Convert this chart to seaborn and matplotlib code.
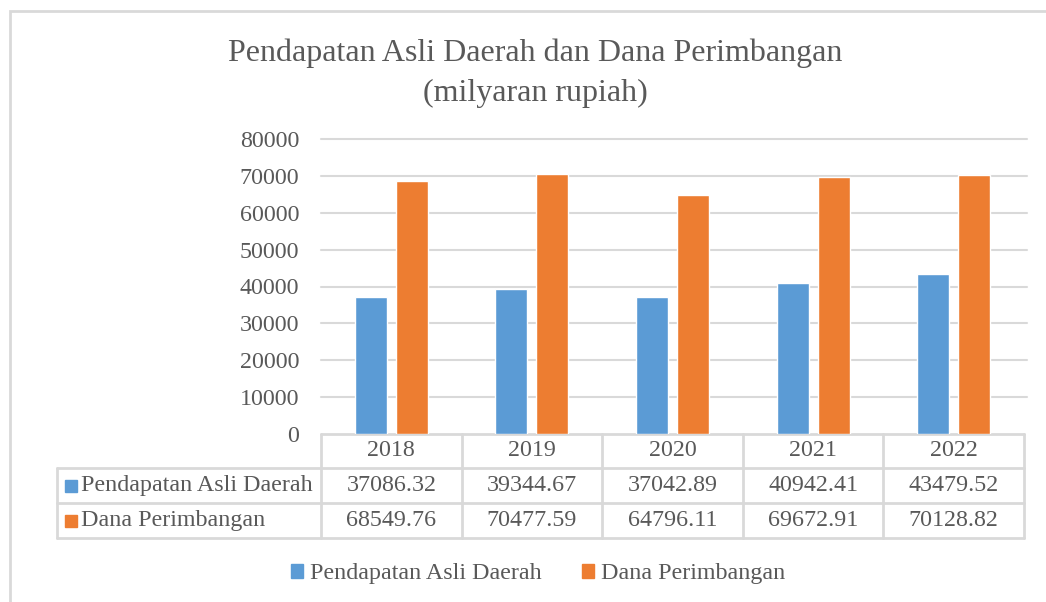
import pandas as pd
import matplotlib.pyplot as plt
import matplotlib.transforms as mtransforms
from matplotlib.patches import Rectangle
import seaborn as sns

# DATA

YEARS = ['2018', '2019', '2020', '2021', '2022']
PAD = [37086.32, 39344.67, 37042.89, 40942.41, 43479.52]
DANA = [68549.76, 70477.59, 64796.11, 69672.91, 70128.82]
SERIES = ['Pendapatan Asli Daerah', 'Dana Perimbangan']
COLORS = ['#5B9BD5', '#ED7D31']
TITLE = 'Pendapatan Asli Daerah dan Dana Perimbangan\n(milyaran rupiah)'

TEXT_COLOR = '#595959'
LINE_COLOR = '#D9D9D9'
FONT = 'Liberation Serif'
FS = 17.3

# PLOT

sns.set_style('white')
plt.rcParams['font.family'] = [FONT, 'DejaVu Serif']

df = pd.DataFrame({
    'Year': YEARS * 2,
    'Value': PAD + DANA,
    'Series': [SERIES[0]] * len(YEARS) + [SERIES[1]] * len(YEARS),
})

W, H = 1046, 602
fig = plt.figure(figsize=(W / 100, H / 100), dpi=100)

# plot area in pixels
px_left, px_right, px_top, px_bottom = 321, 1024, 139, 434
ax = fig.add_axes([px_left / W, 1 - px_bottom / H,
                   (px_right - px_left) / W, (px_bottom - px_top) / H])

sns.barplot(data=df, x='Year', y='Value', hue='Series', palette=COLORS,
            saturation=1, width=0.583, gap=0.22, legend=False, ax=ax, zorder=3)

ax.set_xlim(-0.5, len(YEARS) - 0.5)
ax.set_ylim(0, 80000)
ax.set_yticks(range(0, 80001, 10000))
for yv in range(10000, 80001, 10000):
    ax.axhline(yv, color=LINE_COLOR, lw=1.5, zorder=1, xmax=1.004, clip_on=False)
for s in ax.spines.values():
    s.set_visible(False)
ax.set_xticks([])
ax.set_xlabel('')
ax.set_ylabel('')
ax.tick_params(axis='y', length=0, pad=15.8, labelsize=FS, labelcolor=TEXT_COLOR)

# title
fig.text(535 / W, 1 - 73 / H, TITLE, ha='center', va='center', fontsize=23,
         color=TEXT_COLOR, linespacing=1.5)

# data table below the plot area
trans = mtransforms.blended_transform_factory(ax.transData, ax.transAxes)
ph = px_bottom - px_top


def yfrac(py):
    return (px_bottom - py) / ph


row_edges = [434, 468, 503, 538]
x_lo, x_hi = -0.5, len(YEARS) - 0.5
x_label = (57 - px_left) / (px_right - px_left) * len(YEARS) - 0.5

lk = dict(color=LINE_COLOR, lw=2, clip_on=False, zorder=2)
ax.plot([x_lo, x_hi], [yfrac(row_edges[0])] * 2, transform=trans, **lk)
for ry in row_edges[1:]:
    ax.plot([x_label, x_hi], [yfrac(ry)] * 2, transform=trans, **lk)
ax.plot([x_label, x_label], [yfrac(row_edges[1]), yfrac(row_edges[3])], transform=trans, **lk)
for i in range(len(YEARS) + 1):
    xv = i - 0.5
    ax.plot([xv, xv], [yfrac(row_edges[0]), yfrac(row_edges[3])], transform=trans, **lk)

for i, yr in enumerate(YEARS):
    ax.text(i, yfrac((row_edges[0] + row_edges[1]) / 2), yr, transform=trans,
            ha='center', va='center', fontsize=FS, color=TEXT_COLOR)

for r, (name, vals, col) in enumerate(zip(SERIES, [PAD, DANA], COLORS)):
    yc = (row_edges[r + 1] + row_edges[r + 2]) / 2
    for i, v in enumerate(vals):
        ax.text(i, yfrac(yc), f'{v:.2f}', transform=trans,
                ha='center', va='center', fontsize=FS, color=TEXT_COLOR)
    fig.patches.append(Rectangle((65 / W, 1 - (yc + 6) / H), 12 / W, 12 / H,
                                 transform=fig.transFigure, color=col))
    fig.text(81 / W, 1 - yc / H, name, ha='left', va='center', fontsize=FS,
             color=TEXT_COLOR)

# legend
handles = [Rectangle((0, 0), 1, 1, color=c) for c in COLORS]
fig.legend(handles, SERIES, loc='center', bbox_to_anchor=(538.5 / W, 1 - 574 / H),
           ncol=2, frameon=False, fontsize=FS, handlelength=0.5, handleheight=0.5,
           handletextpad=0.3, columnspacing=1.67, labelcolor=TEXT_COLOR)

# chart border
fig.patches.append(Rectangle((10 / W, -0.1), 1.2, 1 - 11 / H + 0.1,
                             transform=fig.transFigure, fill=False,
                             edgecolor=LINE_COLOR, lw=2))

fig.savefig('out.png', dpi=100)
